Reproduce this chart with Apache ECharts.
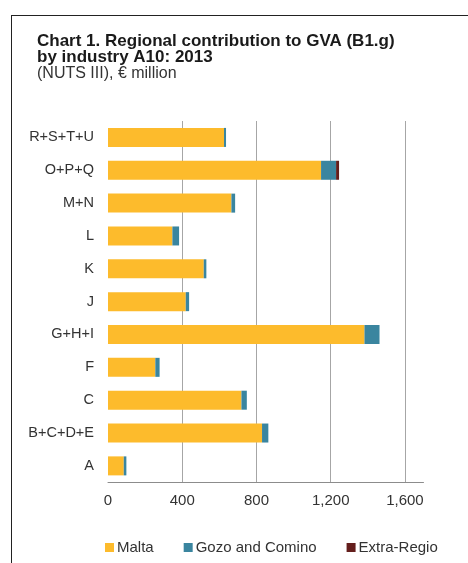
<!DOCTYPE html>
<html><head><meta charset="utf-8">
<script src="https://cdn.jsdelivr.net/npm/echarts@6/dist/echarts.min.js"></script>
<style>
html,body{margin:0;padding:0;background:#fff;}
#frame{position:absolute;left:11px;top:14.5px;right:0;bottom:0;border-left:1.5px solid #222;border-top:1.5px solid #222;}
#chart{position:absolute;left:0;top:0;width:468px;height:563px;}
</style></head>
<body>
<div id="frame"></div>
<div id="chart"></div>
<script>
const categories = ['A','B+C+D+E','C','F','G+H+I','J','K','L','M+N','O+P+Q','R+S+T+U'];
const malta = [85, 830, 719, 255, 1382, 419, 516, 347, 665, 1148, 625];
const gozo = [14, 34, 29, 23, 81, 18, 14, 36, 20, 81, 11];
const extraRegio = [0, 0, 0, 0, 0, 0, 0, 0, 0, 16, 0];
const seriesNames = ['Malta', 'Gozo and Comino', 'Extra-Regio'];
const xTicks = {min: 0, max: 1700, interval: 400};

const font = 'Liberation Sans, Arial, sans-serif';
const chart = echarts.init(document.getElementById('chart'), null, {renderer: 'canvas'});
const mk = (name, data, color) => ({
  name, type: 'bar', stack: 'total', data, barWidth: 19,
  itemStyle: {color}, emphasis: {disabled: true}
});
chart.setOption({
  animation: false,
  title: {
    text: 'Chart 1. Regional contribution to GVA (B1.g)\nby industry A10: 2013',
    subtext: '(NUTS III), € million',
    left: 37, top: 33, itemGap: 0, padding: 0,
    textStyle: {fontFamily: font, fontSize: 17, fontWeight: 'bold', color: '#1a1a1a', lineHeight: 16},
    subtextStyle: {fontFamily: font, fontSize: 16, color: '#333', lineHeight: 16}
  },
  legend: {
    data: seriesNames, left: 100, top: 535, itemWidth: 9, itemHeight: 9, itemGap: 30,
    icon: 'rect', textStyle: {fontFamily: font, fontSize: 15, color: '#333', padding: [0,0,0,-2]}
  },
  grid: {left: 108, right: 44.5, top: 121, bottom: 80.7, containLabel: false},
  xAxis: {
    type: 'value', min: xTicks.min, max: xTicks.max, interval: xTicks.interval,
    axisLine: {show: true, lineStyle: {color: '#8c8c8c', width: 1}},
    axisTick: {show: false},
    axisLabel: {showMaxLabel: false, margin: 11, fontFamily: font, fontSize: 15, color: '#333',
      formatter: v => v.toLocaleString('en-US')},
    splitLine: {show: true, showMinLine: false, showMaxLine: false, lineStyle: {color: '#a6a6a6', width: 1}}
  },
  yAxis: {
    type: 'category', data: categories,
    axisLine: {show: false}, axisTick: {show: false},
    axisLabel: {margin: 14, fontFamily: font, fontSize: 14.5, color: '#333'}
  },
  series: [
    mk(seriesNames[0], malta, '#FDBB2C'),
    mk(seriesNames[1], gozo, '#3A859F'),
    mk(seriesNames[2], extraRegio, '#641E1C')
  ]
});
</script>
</body></html>
